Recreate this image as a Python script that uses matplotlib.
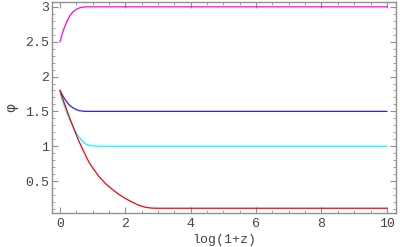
import matplotlib
matplotlib.use("Agg")
import matplotlib.pyplot as plt
from matplotlib.ticker import MultipleLocator

# log(1+z) samples
x_red = [0, 0.1, 0.2, 0.3, 0.4, 0.5, 0.6, 0.7, 0.8, 0.9, 1.0, 1.2, 1.4, 1.6,
         1.8, 2.0, 2.2, 2.4, 2.6, 2.8, 3.0, 10]
y_red = [1.80, 1.66, 1.53, 1.40, 1.28, 1.16, 1.05, 0.95, 0.85, 0.76, 0.69,
         0.56, 0.46, 0.38, 0.31, 0.25, 0.20, 0.155, 0.125, 0.112, 0.11, 0.11]

x_cyan = [0, 0.1, 0.2, 0.3, 0.4, 0.5, 0.6, 0.7, 0.8, 0.9, 1.0, 1.2, 10]
y_cyan = [1.76, 1.62, 1.49, 1.38, 1.28, 1.19, 1.12, 1.065, 1.03, 1.012,
          1.004, 1.0, 1.0]

x_blue = [0, 0.1, 0.2, 0.3, 0.4, 0.5, 0.6, 0.7, 0.8, 10]
y_blue = [1.80, 1.71, 1.64, 1.585, 1.55, 1.525, 1.51, 1.503, 1.5, 1.5]

x_mag = [0, 0.1, 0.2, 0.3, 0.4, 0.5, 0.6, 0.7, 0.8, 10]
y_mag = [2.50, 2.66, 2.78, 2.87, 2.93, 2.965, 2.985, 2.995, 3.0, 3.0]

fig = plt.figure(figsize=(4.0, 2.47), dpi=100)
ax = fig.add_axes([0.13, 0.138, 0.86, 0.854])

ax.plot(x_mag, y_mag, color="#ff00ff", lw=0.9)
ax.plot(x_blue, y_blue, color="#2020ff", lw=0.9)
ax.plot(x_cyan, y_cyan, color="#00ffff", lw=0.9)
ax.plot(x_red, y_red, color="#ff0000", lw=0.9)

ax.set_xlim(-0.245, 10.28)
ax.set_ylim(0.043, 3.07)

ax.xaxis.set_major_locator(MultipleLocator(2))
ax.xaxis.set_minor_locator(MultipleLocator(0.5))
ax.yaxis.set_major_locator(MultipleLocator(0.5))
ax.yaxis.set_minor_locator(MultipleLocator(0.1))
ax.yaxis.set_major_formatter(plt.FuncFormatter(lambda v, p: "%g" % v))

frame = "#909090"
for s in ax.spines.values():
    s.set_color(frame)
    s.set_linewidth(1.0)
ax.tick_params(which="both", direction="in", top=True, right=True,
               color=frame, labelcolor="#444444",
               labelfontfamily="Liberation Mono", labelsize=9.5)
ax.tick_params(which="major", length=4, width=0.8)
ax.tick_params(which="minor", length=2, width=0.6)
ax.tick_params(axis="y", pad=2)
ax.tick_params(axis="x", pad=4)

ax.set_xlabel("log(1+z)", family="Liberation Mono", fontsize=9.5,
              color="#444444", labelpad=2.5)
ax.set_ylabel("φ", family="DejaVu Sans", fontsize=10, color="#444444",
              labelpad=5)

fig.savefig("out.png", dpi=100)
